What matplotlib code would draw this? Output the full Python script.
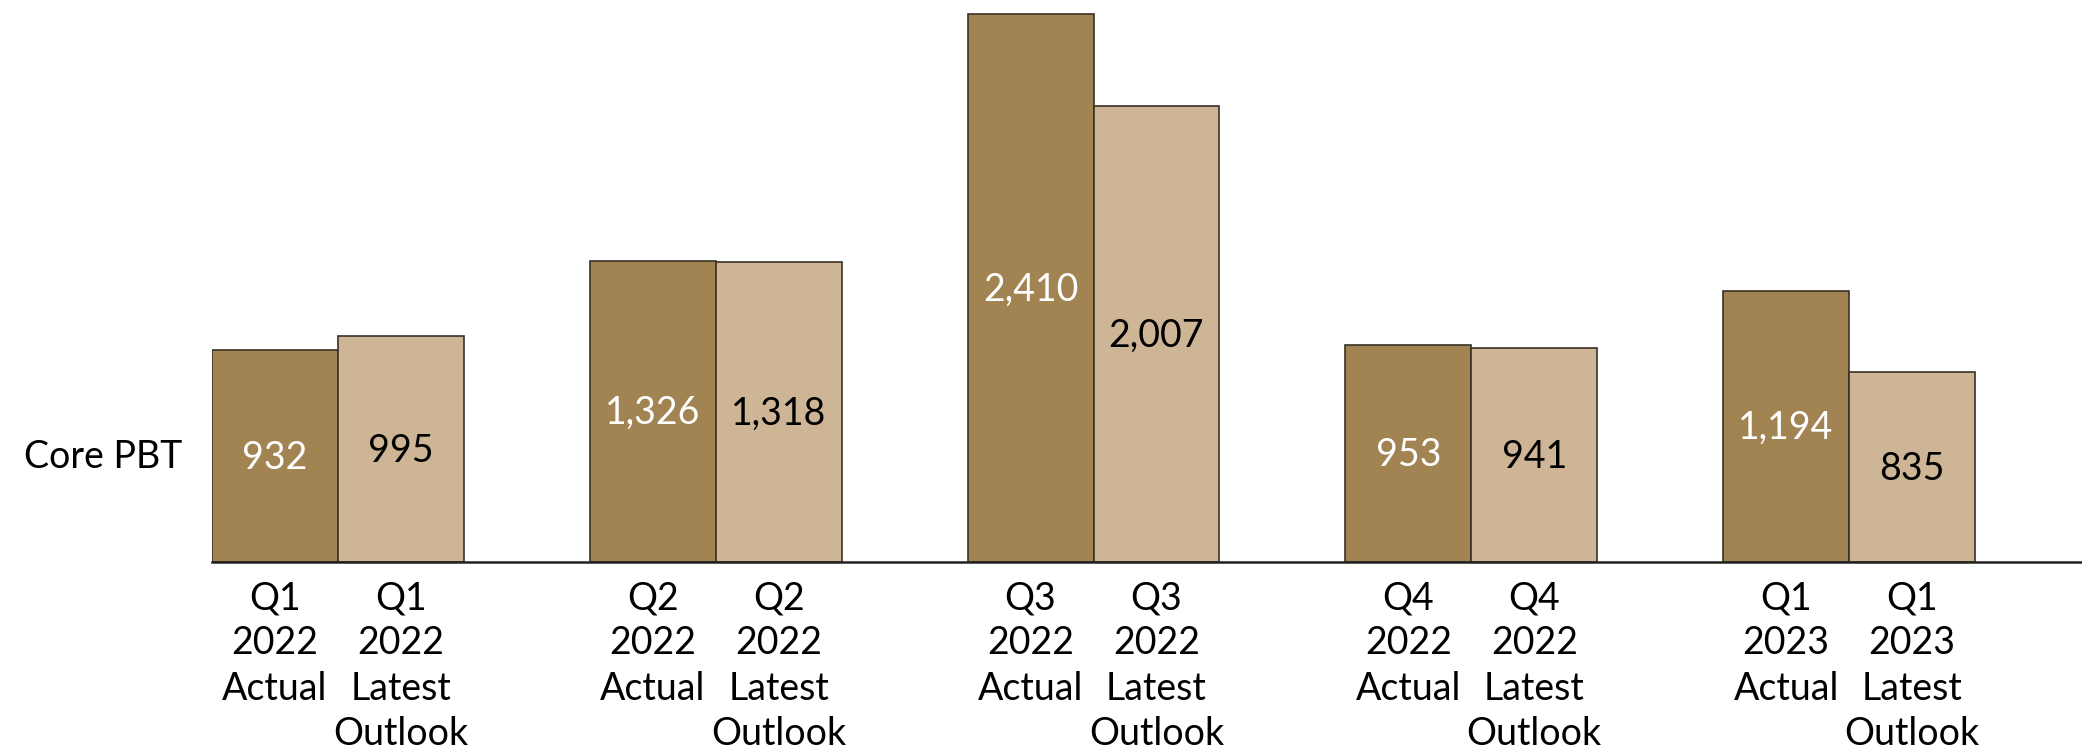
import matplotlib
matplotlib.use("Agg")
import matplotlib.pyplot as plt
import numpy as np

quarters = ["Q1\n2022", "Q2\n2022", "Q3\n2022", "Q4\n2022", "Q1\n2023"]
actual = [932, 1326, 2410, 953, 1194]
outlook = [995, 1318, 2007, 941, 835]
series_labels = ["Actual", "Latest\nOutlook"]
row_label = "Core PBT"

dark = "#A28452"
light = "#CDB596"

plt.rcParams['font.family'] = ['Lato', 'DejaVu Sans']

fig = plt.figure(figsize=(20.82, 7.51), dpi=100)
ax = fig.add_axes([212/2082, 1 - 562/751, 1 - 212/2082, 562/751])

x = np.arange(len(quarters))
w = 1/3
b1 = ax.bar(x - w/2, actual, width=w, color=dark, edgecolor="#3a3228", linewidth=1.2)
b2 = ax.bar(x + w/2, outlook, width=w, color=light, edgecolor="#3a3228", linewidth=1.2)

for rect, v in zip(b1, actual):
    ax.text(rect.get_x() + rect.get_width()/2, v/2 - 8, f"{v:,}", ha="center", va="center",
            color="white", fontsize=27)
for rect, v in zip(b2, outlook):
    ax.text(rect.get_x() + rect.get_width()/2, v/2 - 8, f"{v:,}", ha="center", va="center",
            color="black", fontsize=27)

ticks = list(x - w/2) + list(x + w/2)
labels = [f"{q}\n{series_labels[0]}" for q in quarters] + [f"{q}\n{series_labels[1]}" for q in quarters]
ax.set_xticks(ticks)
ax.set_xticklabels(labels, fontsize=27, linespacing=1.32, va="top")
ax.tick_params(axis="x", length=0, pad=13)
ax.set_yticks([])

ax.set_xlim(-w, 4 + w + 107/378)
ax.set_ylim(0, 2472)
for s in ["top", "right", "left"]:
    ax.spines[s].set_visible(False)
ax.spines["bottom"].set_linewidth(1.8)
ax.spines["bottom"].set_color("#222222")

fig.text(103/2082, 1 - 457/751, row_label, ha="center", va="center", fontsize=27)

fig.savefig("out.png", dpi=100)
